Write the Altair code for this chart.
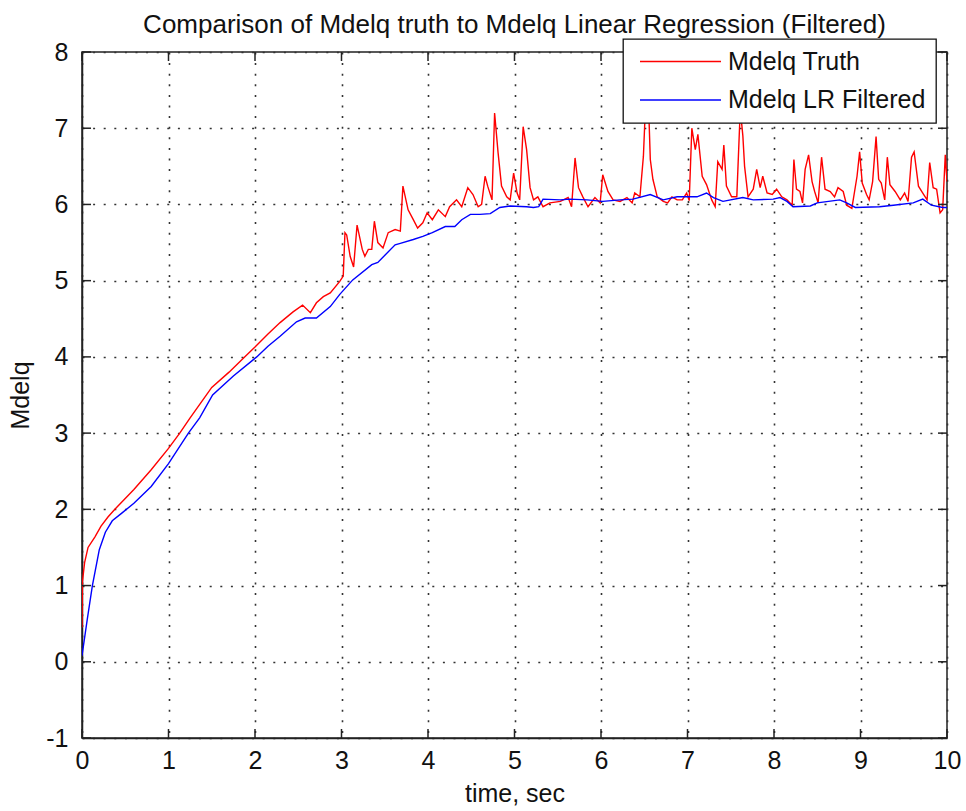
import altair as alt
import pandas as pd

# ---- data ----
t_truth = [0.0, 0.005, 0.03, 0.07, 0.15, 0.22, 0.3, 0.38, 0.6, 0.8, 1.0, 1.13, 1.25, 1.5, 1.7, 1.88,
           2.0, 2.15, 2.29, 2.44, 2.55, 2.64, 2.71, 2.79, 2.87, 2.98, 3.02, 3.04, 3.06, 3.10, 3.14,
           3.18, 3.24, 3.27, 3.31, 3.35, 3.38, 3.42, 3.48, 3.54, 3.62, 3.68, 3.71, 3.77, 3.83, 3.88,
           3.94, 3.99, 4.05, 4.12, 4.20, 4.25, 4.33, 4.39, 4.46, 4.52, 4.58, 4.62, 4.66, 4.69, 4.74,
           4.77, 4.81, 4.85, 4.91, 4.95, 4.99, 5.03, 5.06, 5.10, 5.14, 5.18, 5.22, 5.27, 5.33, 5.41,
           5.53, 5.62, 5.66, 5.70, 5.74, 5.79, 5.85, 5.93, 5.99, 6.02, 6.08, 6.14, 6.22, 6.30, 6.36,
           6.39, 6.45, 6.49, 6.52, 6.55, 6.57, 6.60, 6.65, 6.72, 6.77, 6.82, 6.88, 6.94, 6.99, 7.02,
           7.05, 7.09, 7.12, 7.17, 7.22, 7.28, 7.32, 7.35, 7.40, 7.42, 7.45, 7.51, 7.57, 7.61, 7.64,
           7.66, 7.70, 7.76, 7.80, 7.84, 7.87, 7.92, 7.98, 8.03, 8.09, 8.15, 8.21, 8.23, 8.26, 8.30,
           8.33, 8.36, 8.40, 8.44, 8.47, 8.51, 8.55, 8.59, 8.65, 8.70, 8.74, 8.80, 8.84, 8.90, 8.96,
           8.99, 9.02, 9.07, 9.10, 9.14, 9.18, 9.21, 9.24, 9.28, 9.31, 9.34, 9.40, 9.46, 9.51, 9.55,
           9.59, 9.62, 9.67, 9.72, 9.77, 9.80, 9.84, 9.88, 9.92, 9.95, 9.98, 10.0]
v_truth = [0.45, 1.05, 1.3, 1.5, 1.64, 1.78, 1.9, 2.0, 2.26, 2.52, 2.8, 3.0, 3.2, 3.6, 3.8, 4.0,
           4.13, 4.3, 4.45, 4.59, 4.68, 4.58, 4.71, 4.79, 4.84, 4.99, 5.06, 5.63, 5.6, 5.32, 5.18,
           5.73, 5.41, 5.32, 5.41, 5.41, 5.78, 5.5, 5.43, 5.63, 5.67, 5.65, 6.24, 5.93, 5.8, 5.69,
           5.76, 5.89, 5.80, 5.93, 5.84, 5.97, 6.06, 5.97, 6.22, 6.13, 5.97, 6.0, 6.37, 6.24, 6.06,
           7.2, 6.68, 6.24, 6.1, 6.06, 6.41, 6.15, 6.06, 7.02, 6.72, 6.22, 6.06, 6.1, 5.97, 6.02,
           6.04, 6.09, 5.97, 6.61, 6.22, 6.1, 5.97, 6.09, 6.02, 6.39, 6.17, 6.06, 6.04, 6.09, 6.02,
           6.15, 6.1, 6.63, 7.45, 7.3, 6.59, 6.33, 6.1, 6.04, 6.02, 6.1, 6.06, 6.06, 6.15, 6.05,
           7.0, 6.72, 6.92, 6.37, 6.26, 6.06, 5.97, 6.56, 6.46, 6.78, 6.24, 6.1, 6.1, 7.25, 6.9,
           6.5, 6.1, 6.2, 6.46, 6.22, 6.37, 6.15, 6.13, 6.2, 6.1, 6.06, 5.99, 6.59, 6.2, 6.17,
           6.02, 6.46, 6.65, 6.3, 6.17, 6.02, 6.62, 6.2, 6.17, 6.1, 6.22, 6.17, 5.99, 5.95, 6.37,
           6.69, 6.28, 6.13, 6.06, 6.3, 6.89, 6.33, 6.28, 6.06, 6.62, 6.26, 6.17, 6.06, 6.15, 6.04,
           6.62, 6.69, 6.24, 6.15, 6.06, 6.55, 6.22, 6.2, 5.89, 5.93, 6.65, 6.3]

t_lr = [0.0, 0.06, 0.12, 0.2, 0.27, 0.35, 0.46, 0.6, 0.8, 1.0, 1.23, 1.36, 1.51, 1.75, 2.02, 2.15,
        2.29, 2.48, 2.58, 2.71, 2.87, 2.98, 3.13, 3.35, 3.42, 3.62, 3.68, 3.83, 3.94, 4.05, 4.2,
        4.31, 4.39, 4.49, 4.6, 4.72, 4.83, 4.95, 5.14, 5.22, 5.28, 5.33, 5.53, 5.64, 5.84, 6.02,
        6.22, 6.37, 6.57, 6.72, 6.88, 7.11, 7.22, 7.3, 7.41, 7.64, 7.76, 7.99, 8.07, 8.15, 8.22,
        8.42, 8.5, 8.76, 8.84, 8.94, 9.22, 9.38, 9.61, 9.72, 9.82, 9.95, 10.0]
v_lr = [0.08, 0.55, 1.0, 1.47, 1.7, 1.85, 1.95, 2.08, 2.3, 2.6, 3.0, 3.2, 3.5, 3.75, 4.0, 4.14,
        4.27, 4.46, 4.51, 4.51, 4.66, 4.82, 5.01, 5.21, 5.24, 5.47, 5.49, 5.54, 5.58, 5.63, 5.71,
        5.71, 5.8, 5.87, 5.87, 5.88, 5.96, 5.98, 5.97, 5.96, 5.97, 6.07, 6.06, 6.07, 6.06, 6.04,
        6.06, 6.07, 6.13, 6.06, 6.1, 6.1, 6.15, 6.09, 6.04, 6.09, 6.06, 6.07, 6.09, 6.04, 5.97,
        5.98, 6.02, 6.06, 6.02, 5.96, 5.97, 5.99, 6.02, 6.07, 5.99, 5.96, 5.96]

series_names = ["Mdelq Truth", "Mdelq LR Filtered"]
series_colors = ["#ff0000", "#0000ff"]
x_ticks = [0, 1, 2, 3, 4, 5, 6, 7, 8, 9, 10]
y_ticks = [-1, 0, 1, 2, 3, 4, 5, 6, 7, 8]

df = pd.concat([
    pd.DataFrame({"t": t_truth, "v": v_truth, "series": series_names[0]}),
    pd.DataFrame({"t": t_lr, "v": v_lr, "series": series_names[1]}),
])
xt = pd.DataFrame({"x": x_ticks})
yt = pd.DataFrame({"y": y_ticks})

W, H = 865, 686
FONT = "Liberation Sans"
xscale = alt.Scale(domain=[0, 10], nice=False, zero=False)
yscale = alt.Scale(domain=[-1, 8], nice=False, zero=False)

lines = alt.Chart(df).mark_line(strokeWidth=1.4, clip=True).encode(
    x=alt.X("t:Q", scale=xscale, title="time, sec",
            axis=alt.Axis(values=x_ticks, labelExpr="'' + datum.value")),
    y=alt.Y("v:Q", scale=yscale, title="Mdelq",
            axis=alt.Axis(values=y_ticks, labelExpr="'' + datum.value")),
    color=alt.Color("series:N",
                    scale=alt.Scale(domain=series_names, range=series_colors),
                    sort=series_names,
                    legend=alt.Legend(title=None, orient="none", legendX=541, legendY=-13,
                                      symbolType="stroke", symbolSize=6561,
                                      symbolStrokeWidth=1.4, symbolOffset=6,
                                      clipHeight=25, rowPadding=12.5, padding=10,
                                      labelFont=FONT, labelFontSize=25, labelColor="#111",
                                      labelOffset=6, labelLimit=400, fillColor="white")),
    order="t:Q",
)

tick_style = dict(color="#222", strokeWidth=1.5)
bottom_ticks = alt.Chart(xt).mark_rule(**tick_style).encode(
    x=alt.X("x:Q", scale=xscale), y=alt.value(H), y2=alt.value(H - 9))
top_ticks = alt.Chart(xt).mark_rule(**tick_style).encode(
    x=alt.X("x:Q", scale=xscale), y=alt.value(0), y2=alt.value(9))
left_ticks = alt.Chart(yt).mark_rule(**tick_style).encode(
    y=alt.Y("y:Q", scale=yscale), x=alt.value(0), x2=alt.value(9))
right_ticks = alt.Chart(yt).mark_rule(**tick_style).encode(
    y=alt.Y("y:Q", scale=yscale), x=alt.value(W), x2=alt.value(W - 9))

chart = alt.layer(lines, bottom_ticks, top_ticks, left_ticks, right_ticks).properties(
    width=W, height=H,
    title=alt.Title("Comparison of Mdelq truth to Mdelq Linear Regression (Filtered)",
                    font=FONT, fontSize=26, fontWeight="normal", color="#111",
                    anchor="middle", baseline="alphabetic", offset=-21),
    autosize=alt.AutoSizeParams(type="none"),
    padding={"left": 82, "top": 52, "right": 19, "bottom": 73},
    background="white",
).configure_view(
    stroke="#222", strokeWidth=1.5
).configure_legend(
    strokeColor="#111", strokeWidth=1.3
).configure_axis(
    labelFont=FONT, labelFontSize=25, labelColor="#111",
    titleFont=FONT, titleFontSize=25, titleFontWeight="normal", titleColor="#111",
    domainColor="#222", domainWidth=1.5,
    ticks=False, tickSize=0,
    grid=True, gridColor="#333", gridDash=[2, 8.6], gridWidth=1.6, gridOpacity=1,
    labelFlush=False,
).configure_axisX(
    labelPadding=10, titlePadding=8,
).configure_axisY(
    labelPadding=14, titlePadding=12,
)

chart.save("out.html", embed_options={"renderer": "svg", "actions": False})
